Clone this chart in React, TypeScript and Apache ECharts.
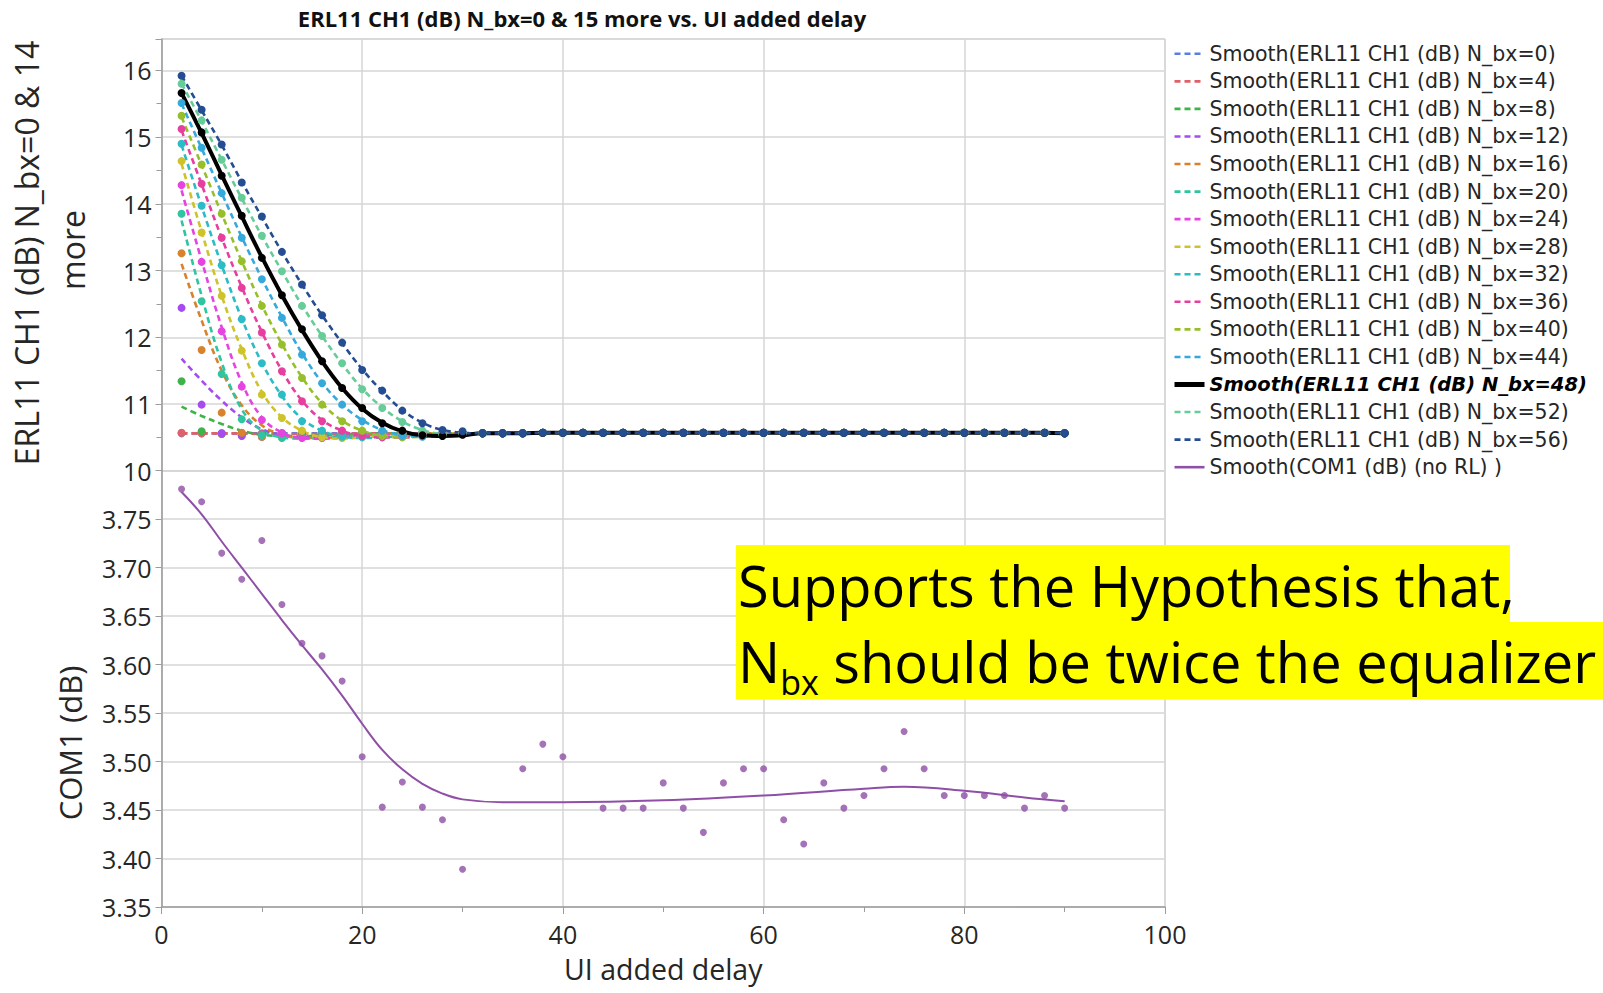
import { useEffect, useRef } from 'react';
import * as echarts from 'echarts';

// UI added delay (x) for the steep part and for the flat tail
const UI_HEAD = [2, 4, 6, 8, 10, 12, 14, 16, 18, 20, 22, 24, 26, 28, 30];
const UI_TAIL = [32, 34, 36, 38, 40, 42, 44, 46, 48, 50, 52, 54, 56, 58, 60, 62, 64, 66, 68, 70, 72, 74, 76, 78, 80, 82, 84, 86, 88, 90];

// all ERL11 curves sit on the same floor after x=30
const ERL_TAIL = [10.56, 10.56, 10.56, 10.57, 10.57, 10.57, 10.57, 10.57, 10.57, 10.57, 10.57, 10.57, 10.57, 10.57, 10.57, 10.57, 10.57, 10.57, 10.57, 10.57, 10.57, 10.57, 10.57, 10.57, 10.57, 10.57, 10.57, 10.57, 10.57, 10.56];

const NBX = [0, 4, 8, 12, 16, 20, 24, 28, 32, 36, 40, 44, 48, 52, 56];
const COLORS = ['#5b7fe0', '#e0606a', '#3eb34a', '#a64bf0', '#d9822e', '#2fc5a0', '#e544e0', '#cdc32a', '#2bbcc6', '#e63fa0', '#97bf2c', '#35a9dc', '#000000', '#66cc98', '#244d92'];

// measured points (x = UI_HEAD)
const PTS_N0 = [10.56, 10.56, 10.56, 10.56, 10.56, 10.56, 10.56, 10.56, 10.56, 10.56, 10.56, 10.56, 10.56, 10.56, 10.56];
const PTS_N4 = [10.57, 10.56, 10.55, 10.55, 10.55, 10.56, 10.56, 10.56, 10.56, 10.56, 10.56, 10.56, 10.56, 10.56, 10.56];
const PTS_N8 = [11.34, 10.59, 10.55, 10.53, 10.53, 10.54, 10.55, 10.56, 10.56, 10.56, 10.56, 10.56, 10.56, 10.56, 10.56];
const PTS_N12 = [12.44, 10.99, 10.56, 10.52, 10.51, 10.52, 10.54, 10.55, 10.56, 10.56, 10.56, 10.56, 10.56, 10.56, 10.56];
const PTS_N16 = [13.26, 11.81, 10.87, 10.57, 10.51, 10.5, 10.52, 10.54, 10.55, 10.56, 10.56, 10.56, 10.56, 10.56, 10.56];
const PTS_N20 = [13.85, 12.54, 11.45, 10.77, 10.53, 10.49, 10.5, 10.52, 10.54, 10.55, 10.56, 10.56, 10.56, 10.56, 10.56];
const PTS_N24 = [14.28, 13.13, 12.09, 11.26, 10.76, 10.56, 10.49, 10.49, 10.51, 10.53, 10.55, 10.56, 10.56, 10.56, 10.56];
const PTS_N28 = [14.64, 13.57, 12.62, 11.8, 11.14, 10.79, 10.6, 10.5, 10.49, 10.51, 10.53, 10.55, 10.56, 10.56, 10.56];
const PTS_N32 = [14.9, 13.97, 13.08, 12.27, 11.61, 11.14, 10.74, 10.6, 10.51, 10.5, 10.51, 10.53, 10.55, 10.56, 10.56];
const PTS_N36 = [15.12, 14.3, 13.49, 12.74, 12.07, 11.49, 11.04, 10.74, 10.6, 10.52, 10.5, 10.51, 10.53, 10.55, 10.56];
const PTS_N40 = [15.32, 14.59, 13.85, 13.14, 12.47, 11.89, 11.39, 10.99, 10.74, 10.6, 10.52, 10.5, 10.52, 10.54, 10.56];
const PTS_N44 = [15.51, 14.84, 14.16, 13.49, 12.87, 12.29, 11.74, 11.31, 10.99, 10.74, 10.6, 10.52, 10.51, 10.53, 10.55];
const PTS_N48 = [15.66, 15.07, 14.42, 13.82, 13.19, 12.63, 12.12, 11.64, 11.24, 10.94, 10.71, 10.6, 10.53, 10.52, 10.54];
const PTS_N52 = [15.8, 15.25, 14.66, 14.09, 13.52, 12.99, 12.47, 12.02, 11.61, 11.22, 10.94, 10.73, 10.6, 10.54, 10.55];
const PTS_N56 = [15.92, 15.41, 14.89, 14.32, 13.81, 13.28, 12.79, 12.33, 11.92, 11.51, 11.2, 10.9, 10.71, 10.61, 10.59];

// smoothing-spline fits (x = UI_HEAD)
const FIT_N0 = [10.56, 10.56, 10.56, 10.56, 10.56, 10.56, 10.56, 10.56, 10.56, 10.56, 10.56, 10.56, 10.56, 10.56, 10.56];
const FIT_N4 = [10.56, 10.56, 10.56, 10.56, 10.55, 10.55, 10.55, 10.55, 10.55, 10.56, 10.56, 10.56, 10.56, 10.56, 10.56];
const FIT_N8 = [10.96, 10.82, 10.7, 10.6, 10.54, 10.52, 10.52, 10.53, 10.54, 10.55, 10.56, 10.56, 10.56, 10.56, 10.56];
const FIT_N12 = [11.68, 11.35, 11.05, 10.8, 10.62, 10.53, 10.5, 10.5, 10.52, 10.54, 10.55, 10.56, 10.56, 10.56, 10.56];
const FIT_N16 = [13.1, 12.25, 11.5, 10.98, 10.68, 10.54, 10.49, 10.49, 10.51, 10.53, 10.55, 10.56, 10.56, 10.56, 10.56];
const FIT_N20 = [13.75, 12.62, 11.62, 10.92, 10.6, 10.5, 10.48, 10.49, 10.51, 10.53, 10.55, 10.56, 10.56, 10.56, 10.56];
const FIT_N24 = [14.2, 13.15, 12.15, 11.32, 10.8, 10.57, 10.49, 10.48, 10.5, 10.52, 10.54, 10.55, 10.56, 10.56, 10.56];
const FIT_N28 = [14.6, 13.58, 12.62, 11.82, 11.18, 10.8, 10.6, 10.5, 10.48, 10.5, 10.52, 10.54, 10.55, 10.56, 10.56];
const FIT_N32 = [14.88, 13.96, 13.08, 12.28, 11.62, 11.12, 10.78, 10.6, 10.51, 10.49, 10.5, 10.52, 10.54, 10.55, 10.56];
const FIT_N36 = [15.1, 14.29, 13.49, 12.75, 12.08, 11.5, 11.05, 10.76, 10.6, 10.52, 10.5, 10.5, 10.52, 10.54, 10.56];
const FIT_N40 = [15.3, 14.58, 13.85, 13.14, 12.48, 11.9, 11.4, 11.01, 10.75, 10.6, 10.52, 10.5, 10.51, 10.53, 10.55];
const FIT_N44 = [15.5, 14.83, 14.16, 13.5, 12.88, 12.3, 11.76, 11.32, 10.99, 10.76, 10.61, 10.53, 10.51, 10.52, 10.54];
const FIT_N48 = [15.66, 15.06, 14.43, 13.81, 13.2, 12.63, 12.11, 11.64, 11.24, 10.93, 10.72, 10.59, 10.53, 10.52, 10.53];
const FIT_N52 = [15.8, 15.24, 14.66, 14.08, 13.52, 12.99, 12.48, 12.02, 11.6, 11.23, 10.95, 10.74, 10.61, 10.55, 10.54];
const FIT_N56 = [15.92, 15.4, 14.88, 14.33, 13.8, 13.28, 12.79, 12.33, 11.91, 11.52, 11.19, 10.91, 10.72, 10.61, 10.57];

const ERL_PTS = [PTS_N0, PTS_N4, PTS_N8, PTS_N12, PTS_N16, PTS_N20, PTS_N24, PTS_N28, PTS_N32, PTS_N36, PTS_N40, PTS_N44, PTS_N48, PTS_N52, PTS_N56];
const ERL_FIT = [FIT_N0, FIT_N4, FIT_N8, FIT_N12, FIT_N16, FIT_N20, FIT_N24, FIT_N28, FIT_N32, FIT_N36, FIT_N40, FIT_N44, FIT_N48, FIT_N52, FIT_N56];

// COM1 (dB), no RL
const COM1_X = [2, 4, 6, 8, 10, 12, 14, 16, 18, 20, 22, 24, 26, 28, 30, 36, 38, 40, 44, 46, 48, 50, 52, 54, 56, 58, 60, 62, 64, 66, 68, 70, 72, 74, 76, 78, 80, 82, 84, 86, 88, 90];
const COM1_Y = [3.781, 3.768, 3.715, 3.688, 3.728, 3.662, 3.622, 3.609, 3.583, 3.505, 3.453, 3.479, 3.453, 3.44, 3.389, 3.4925, 3.518, 3.505, 3.452, 3.452, 3.452, 3.478, 3.452, 3.427, 3.478, 3.4925, 3.4925, 3.44, 3.415, 3.478, 3.452, 3.465, 3.4925, 3.531, 3.4925, 3.465, 3.465, 3.465, 3.465, 3.452, 3.465, 3.452];
const COM1_FIT_X = [2, 4, 6, 8, 10, 12, 14, 16, 18, 20, 22, 24, 26, 28, 30, 34, 40, 50, 60, 70, 74, 80, 86, 90];
const COM1_FIT_Y = [3.778, 3.755, 3.727, 3.7, 3.673, 3.646, 3.62, 3.595, 3.568, 3.539, 3.512, 3.492, 3.477, 3.467, 3.461, 3.458, 3.458, 3.46, 3.465, 3.472, 3.474, 3.47, 3.463, 3.459];

const COM1_NAME = 'Smooth(COM1 (dB) (no RL) )';
const FONT = '"Open Sans", "Noto Sans", sans-serif';
const LEGEND_FONT = '"DejaVu Sans", "Open Sans", sans-serif';
const GRID_LINE = '#d6d6d6';
const AXIS_LINE = '#9c9c9c';
const LABEL = '#262626';

const erlName = (n: number) => `Smooth(ERL11 CH1 (dB) N_bx=${n})`;
const withTail = (head: number[]) =>
    UI_HEAD.map((x, i) => [x, head[i]]).concat(UI_TAIL.map((x, i) => [x, ERL_TAIL[i]]));

const App: React.FC = () => {
    const chartRef = useRef<HTMLDivElement | null>(null);

    useEffect(() => {
        if (!chartRef.current) return;
        const chart = echarts.init(chartRef.current, undefined, { renderer: 'svg' });

        const series: any[] = [];
        NBX.forEach((n, k) => {
            const isBold = n === 48;
            const isTop = n === 56;
            series.push({
                name: erlName(n),
                type: 'line',
                xAxisIndex: 0,
                yAxisIndex: 0,
                data: withTail(ERL_FIT[k]),
                smooth: 0.4,
                symbol: 'none',
                z: isTop ? 4 : isBold ? 3 : 2,
                lineStyle: isBold
                    ? { color: '#000', width: 4, type: 'solid' }
                    : { color: COLORS[k], width: 2.6, type: [6, 4] },
                itemStyle: { color: COLORS[k] },
            });
            series.push({
                name: erlName(n) + ' pts',
                type: 'scatter',
                xAxisIndex: 0,
                yAxisIndex: 0,
                data: withTail(ERL_PTS[k]),
                symbolSize: 8,
                z: isTop ? 7 : isBold ? 6 : 5,
                itemStyle: { color: COLORS[k], opacity: 1 },
            });
        });
        series.push({
            name: COM1_NAME,
            type: 'line',
            xAxisIndex: 1,
            yAxisIndex: 1,
            data: COM1_FIT_X.map((x, i) => [x, COM1_FIT_Y[i]]),
            smooth: 0.4,
            symbol: 'none',
            lineStyle: { color: '#8f4fa6', width: 2 },
            itemStyle: { color: '#8f4fa6' },
        });
        series.push({
            name: 'COM1 pts',
            type: 'scatter',
            xAxisIndex: 1,
            yAxisIndex: 1,
            data: COM1_X.map((x, i) => [x, COM1_Y[i]]),
            symbolSize: 7,
            itemStyle: { color: '#8f4fa6' },
        });

        const legendData = NBX.map((n) => ({
            name: erlName(n),
            lineStyle: { width: n === 48 ? 5 : 2.6 },
        })).concat([{ name: COM1_NAME, lineStyle: { width: 2.6 } }]);

        const option = {
            animation: false,
            textStyle: { fontFamily: FONT },
            grid: [
                { left: 161.5, right: 438, top: 39, height: 431.7, show: true, borderColor: '#c4c4c4', borderWidth: 1 },
                { left: 161.5, right: 438, top: 470.7, height: 436.3, show: true, borderColor: '#c4c4c4', borderWidth: 1 },
            ],
            legend: {
                data: legendData,
                orient: 'vertical',
                left: 1172,
                top: 40,
                padding: 0,
                itemWidth: 30,
                itemHeight: 14,
                itemGap: 0,
                selectedMode: false,
                itemStyle: { opacity: 0 },
                formatter: (name: string) => (name === erlName(48) ? `{b|${name}}` : name),
                textStyle: {
                    fontFamily: LEGEND_FONT,
                    fontSize: 20.5,
                    color: LABEL,
                    lineHeight: 27.56,
                    rich: {
                        b: { fontFamily: LEGEND_FONT, fontSize: 19.5, fontWeight: 'bold', fontStyle: 'italic', color: '#000', lineHeight: 27.56 },
                    },
                },
            },
            xAxis: [
                {
                    type: 'value',
                    gridIndex: 0,
                    min: 0,
                    max: 100,
                    interval: 20,
                    axisLine: { show: false },
                    axisTick: { show: false },
                    axisLabel: { show: false },
                    splitLine: { show: true, lineStyle: { color: GRID_LINE, width: 1.5 } },
                },
                {
                    type: 'value',
                    gridIndex: 1,
                    min: 0,
                    max: 100,
                    interval: 20,
                    name: 'UI added delay',
                    nameLocation: 'middle',
                    nameGap: 47,
                    nameTextStyle: { fontFamily: FONT, fontSize: 28.5, color: LABEL },
                    axisLine: { show: true, lineStyle: { color: AXIS_LINE, width: 1.5 } },
                    axisTick: { show: true, length: 7, lineStyle: { color: AXIS_LINE } },
                    minorTick: { show: true, splitNumber: 2, length: 5, lineStyle: { color: AXIS_LINE } },
                    axisLabel: { fontFamily: FONT, fontSize: 25, color: LABEL, margin: 14 },
                    splitLine: { show: true, lineStyle: { color: GRID_LINE, width: 1.5 } },
                },
            ],
            yAxis: [
                {
                    type: 'value',
                    gridIndex: 0,
                    min: 10,
                    max: 16.47,
                    interval: 1,
                    axisLine: { show: true, lineStyle: { color: AXIS_LINE, width: 1.5 } },
                    axisTick: { show: true, length: 6, lineStyle: { color: AXIS_LINE } },
                    minorTick: { show: true, splitNumber: 2, length: 5, lineStyle: { color: AXIS_LINE } },
                    axisLabel: { fontFamily: FONT, fontSize: 25, color: LABEL, margin: 10, showMaxLabel: false },
                    splitLine: { show: true, lineStyle: { color: GRID_LINE, width: 1.5 } },
                },
                {
                    type: 'value',
                    gridIndex: 1,
                    min: 3.35,
                    max: 3.8,
                    interval: 0.05,
                    axisLine: { show: true, lineStyle: { color: AXIS_LINE, width: 1.5 } },
                    axisTick: { show: true, length: 6, lineStyle: { color: AXIS_LINE } },
                    axisLabel: {
                        fontFamily: FONT,
                        fontSize: 25,
                        color: LABEL,
                        margin: 10,
                        showMaxLabel: false,
                        formatter: (v: number) => v.toFixed(2),
                    },
                    splitLine: { show: true, lineStyle: { color: GRID_LINE, width: 1.5 } },
                },
            ],
            graphic: [
                {
                    type: 'text',
                    x: 582,
                    y: 18,
                    style: {
                        text: 'ERL11 CH1 (dB) N_bx=0 & 15 more vs. UI added delay',
                        font: `bold 22px ${FONT}`,
                        fill: '#111',
                        textAlign: 'center',
                        textVerticalAlign: 'middle',
                    },
                },
                {
                    type: 'text',
                    x: 26,
                    y: 253,
                    rotation: Math.PI / 2,
                    style: {
                        text: 'ERL11 CH1 (dB) N_bx=0 & 14',
                        font: `32px ${FONT}`,
                        fill: LABEL,
                        textAlign: 'center',
                        textVerticalAlign: 'middle',
                    },
                },
                {
                    type: 'text',
                    x: 72,
                    y: 250,
                    rotation: Math.PI / 2,
                    style: {
                        text: 'more',
                        font: `32px ${FONT}`,
                        fill: LABEL,
                        textAlign: 'center',
                        textVerticalAlign: 'middle',
                    },
                },
                {
                    type: 'text',
                    x: 70,
                    y: 743,
                    rotation: Math.PI / 2,
                    style: {
                        text: 'COM1 (dB)',
                        font: `31px ${FONT}`,
                        fill: LABEL,
                        textAlign: 'center',
                        textVerticalAlign: 'middle',
                    },
                },
                // yellow highlighted annotation
                {
                    type: 'rect',
                    z: 100,
                    shape: { x: 736, y: 545, width: 774, height: 77.5 },
                    style: { fill: '#ffff00' },
                },
                {
                    type: 'rect',
                    z: 100,
                    shape: { x: 736, y: 622, width: 867, height: 77.5 },
                    style: { fill: '#ffff00' },
                },
                {
                    type: 'text',
                    z: 101,
                    x: 738,
                    y: 585,
                    style: {
                        text: 'Supports the Hypothesis that,',
                        font: `56px ${FONT}`,
                        fill: '#000',
                        textVerticalAlign: 'middle',
                    },
                },
                {
                    type: 'text',
                    z: 101,
                    x: 738,
                    y: 622,
                    style: {
                        text: '{n|N}{s|bx}{n| should be twice the equalizer}',
                        fill: '#000',
                        rich: {
                            n: { fontFamily: FONT, fontSize: 56, lineHeight: 77, fill: '#000' },
                            s: { fontFamily: FONT, fontSize: 34, verticalAlign: 'bottom', fill: '#000' },
                        },
                    },
                },
            ],
            series,
        };

        chart.setOption(option);

        return () => {
            chart.dispose();
        };
    }, []);

    return (
        <div
            ref={chartRef}
            style={{ position: 'fixed', left: 0, top: 0, width: '1603px', height: '993px', background: '#fff' }}
        />
    );
};

export default App;
